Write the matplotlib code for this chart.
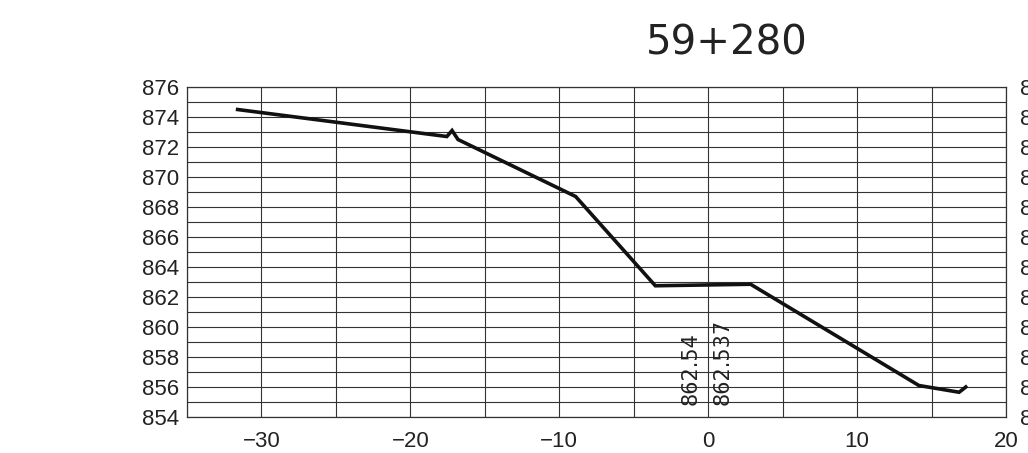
import numpy as np
import matplotlib
matplotlib.use("Agg")
import matplotlib.pyplot as plt

# cross-section profile at chainage 59+280
station = "59+280"
offset = [-31.6, -17.55, -17.2, -16.8, -8.9, -3.55, 2.85, 14.15, 16.85, 17.3]
elev = [874.5, 872.7, 873.1, 872.5, 868.7, 862.75, 862.85, 856.1, 855.65, 856.0]

# elevation labels written near the centre line
lab_x = [-1.2, 1.0]
lab_text = ["862.54", "862.537"]

x_ticks = [-30, -20, -10, 0, 10, 20]
y_ticks = list(range(854, 877, 2))

plt.rcParams['font.family'] = ['Liberation Sans', 'DejaVu Sans']

fig = plt.figure(figsize=(10.28, 4.53), dpi=100)
ax = fig.add_axes([0.1819, 0.0795, 0.7967, 0.7284])

ax.plot(offset, elev, color='#111111', lw=2.6, solid_joinstyle='miter', zorder=3)

for x, t in zip(lab_x, lab_text):
    ax.text(x, 854.8, t, rotation=90, ha='center', va='bottom', fontsize=15,
            family='DejaVu Sans', color='#222222')

ax.set_xlim(-35, 20)
ax.set_ylim(854, 876)
ax.set_xticks(x_ticks)
ax.set_xticklabels([str(v).replace('-', '\u2212') for v in x_ticks])
ax.set_xticks(np.arange(-35, 21, 5), minor=True)
ax.set_yticks(y_ticks)
ax.set_yticks(np.arange(854, 877, 1), minor=True)
ax.grid(which='both', color='#333333', lw=0.8)
ax.tick_params(which='both', length=0, labelsize=16, colors='#222222', pad=6)
ax.tick_params(axis='x', pad=10)
for s in ax.spines.values():
    s.set_linewidth(0.9)
    s.set_color('#333333')

# right-hand elevation scale (runs off the sheet)
ax2 = ax.twinx()
ax2.set_ylim(854, 876)
ax2.set_yticks(y_ticks)
ax2.tick_params(length=0, labelsize=16, colors='#222222', pad=10)
for s in ax2.spines.values():
    s.set_visible(False)

fig.text(0.707, 0.905, station, ha='center', va='center', fontsize=29,
         family='DejaVu Sans', color='#222222')

fig.savefig("out.png", dpi=100)
